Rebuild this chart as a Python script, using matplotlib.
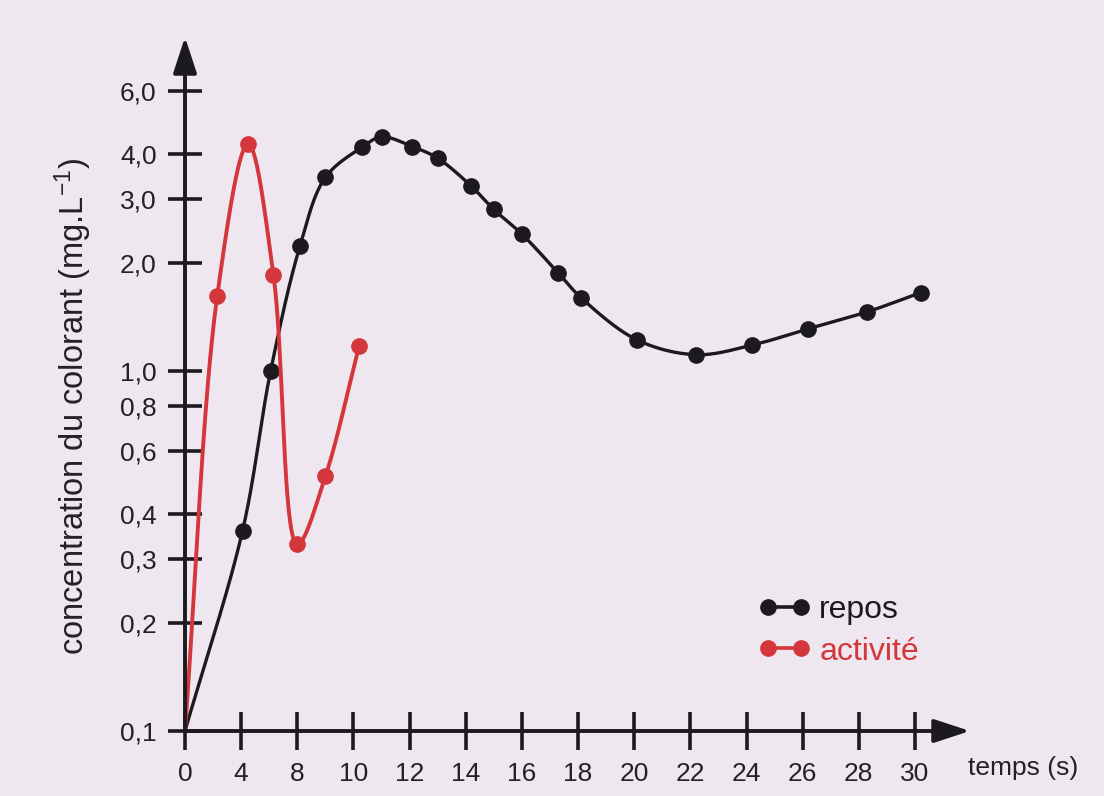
# plot.py
# Concentration du colorant au repos / en activité (échelle log en y)

import numpy as np
import matplotlib.pyplot as plt
from matplotlib.lines import Line2D
from matplotlib.ticker import NullLocator

# ---- data ----
repos_t = [0, 4.1, 6.1, 8.1, 9.0, 10.3, 11.0, 12.1, 13.0, 14.2, 15.0, 16.0,
           17.3, 18.1, 20.1, 22.2, 24.2, 26.2, 28.3, 30.2]
repos_c = [0.1, 0.36, 1.0, 2.23, 3.45, 4.18, 4.47, 4.20, 3.90, 3.26, 2.81,
           2.40, 1.87, 1.60, 1.22, 1.11, 1.18, 1.31, 1.46, 1.65]

activite_t = [0, 2.3, 4.5, 6.3, 8.0, 9.0, 10.2]
activite_c = [0.1, 1.62, 4.27, 1.85, 0.33, 0.51, 1.17]

x_ticks = [0, 4, 8, 10, 12, 14, 16, 18, 20, 22, 24, 26, 28, 30]
x_labels = [str(v) for v in x_ticks]
y_ticks = [0.1, 0.2, 0.3, 0.4, 0.6, 0.8, 1.0, 2.0, 3.0, 4.0, 6.0]
y_labels = ["0,1", "0,2", "0,3", "0,4", "0,6", "0,8",
            "1,0", "2,0", "3,0", "4,0", "6,0"]

BLACK = "#1d1a1f"
RED = "#d4363b"
BG = "#efe7ef"

plt.rcParams["font.family"] = ["Liberation Sans", "DejaVu Sans"]
plt.rcParams["mathtext.fontset"] = "custom"
plt.rcParams["mathtext.rm"] = "Liberation Sans"
plt.rcParams["mathtext.it"] = "Liberation Sans"


# the printed time axis is uneven: 0, 4, 8 then every 2 s, all ticks equally spaced
def fwd(t):
    t = np.asarray(t, float)
    return np.where(t <= 8, t / 4.0, 2 + (t - 8) / 2.0)


def inv(p):
    p = np.asarray(p, float)
    return np.where(p <= 2, 4.0 * p, 8 + 2.0 * (p - 2))


def smooth(ax, xs, ys, n=40):
    # centripetal Catmull-Rom through the points, done in display space
    pts = ax.transData.transform(np.column_stack([xs, ys]))
    p = np.vstack([2 * pts[0] - pts[1], pts, 2 * pts[-1] - pts[-2]])
    out = []
    for i in range(1, len(p) - 2):
        p0, p1, p2, p3 = p[i - 1], p[i], p[i + 1], p[i + 2]
        t0 = 0.0
        t1 = t0 + np.linalg.norm(p1 - p0) ** 0.5
        t2 = t1 + np.linalg.norm(p2 - p1) ** 0.5
        t3 = t2 + np.linalg.norm(p3 - p2) ** 0.5
        t = np.linspace(t1, t2, n)[:, None]
        a1 = (t1 - t) / (t1 - t0) * p0 + (t - t0) / (t1 - t0) * p1
        a2 = (t2 - t) / (t2 - t1) * p1 + (t - t1) / (t2 - t1) * p2
        a3 = (t3 - t) / (t3 - t2) * p2 + (t - t2) / (t3 - t2) * p3
        b1 = (t2 - t) / (t2 - t0) * a1 + (t - t0) / (t2 - t0) * a2
        b2 = (t3 - t) / (t3 - t1) * a2 + (t - t1) / (t3 - t1) * a3
        c = (t2 - t) / (t2 - t1) * b1 + (t - t1) / (t2 - t1) * b2
        out.append(c)
    d = ax.transData.inverted().transform(np.vstack(out))
    return d[:, 0], d[:, 1]


W, H = 1104, 796
fig = plt.figure(figsize=(W / 100, H / 100), dpi=100)
fig.patch.set_facecolor(BG)

x0, x1 = 185, 970      # pixel span of the axes
y0, y1 = 731, 37
ax = fig.add_axes([x0 / W, (H - y0) / H, (x1 - x0) / W, (y0 - y1) / H])
ax.set_facecolor("none")

ax.set_xscale("function", functions=(fwd, inv))
ax.set_yscale("log")
pos_max = (x1 - x0) / 56.15
ax.set_xlim(0, float(inv(pos_max)))
ax.set_ylim(0.1, 10 ** (-1 + (y0 - y1) / 360.0))

for s in ax.spines.values():
    s.set_visible(False)

ax.set_xticks(x_ticks, labels=x_labels)
ax.set_yticks(y_ticks, labels=y_labels)
ax.xaxis.set_minor_locator(NullLocator())
ax.yaxis.set_minor_locator(NullLocator())
ax.tick_params(axis="x", direction="inout", length=28, width=2.6,
               color=BLACK, labelcolor="#222222", labelsize=19, pad=8)
ax.tick_params(axis="y", direction="inout", length=25, width=2.6,
               color=BLACK, labelcolor="#222222", labelsize=19, pad=8)

# axis arrows
arrow = dict(arrowstyle="-|>,head_length=1.1,head_width=0.36",
             mutation_scale=20, lw=2.8, color=BLACK, shrinkA=0, shrinkB=0)
ax.annotate("", xy=(1, 0), xytext=(0, 0), xycoords="axes fraction",
            arrowprops=arrow, annotation_clip=False)
ax.annotate("", xy=(0, 1), xytext=(0, 0), xycoords="axes fraction",
            arrowprops=arrow, annotation_clip=False)

# curves
sx, sy = smooth(ax, repos_t, repos_c)
ax.plot(sx, sy, color=BLACK, lw=2.4, solid_capstyle="round", clip_on=False)
ax.plot(repos_t[1:], repos_c[1:], "o", color=BLACK, ms=11, clip_on=False)

sx, sy = smooth(ax, activite_t, activite_c)
ax.plot(sx, sy, color=RED, lw=2.8, solid_capstyle="round", clip_on=False)
ax.plot(activite_t[1:], activite_c[1:], "o", color=RED, ms=11, clip_on=False)

# labels
fig.text(968 / W, 1 - 768 / H, "temps (s)", ha="left", va="center",
         fontsize=19, color="#222222")
fig.text(73 / W, 1 - 407 / H, "concentration du colorant (mg.L$^{-1}$)",
         rotation=90, ha="center", va="center", fontsize=23.5, color="#222222")

handles = [Line2D([], [], color=BLACK, lw=2.6, marker="o", ms=11),
           Line2D([], [], color=RED, lw=2.6, marker="o", ms=11)]
ax.legend(handles, ["repos", "activité"], numpoints=2, frameon=False,
          loc="upper left", bbox_to_anchor=(758 / W, 1 - 595 / H),
          bbox_transform=fig.transFigure, fontsize=23, handlelength=1.66,
          handletextpad=0.26, labelspacing=0.36, borderpad=0,
          borderaxespad=0, labelcolor="linecolor")

fig.savefig("out.png", dpi=100, facecolor=BG)
